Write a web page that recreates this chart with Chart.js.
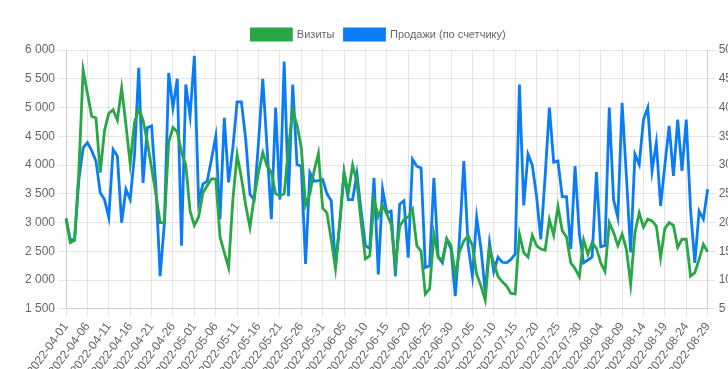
<!DOCTYPE html>
<html lang="ru">
<head>
<meta charset="utf-8">
<title>Визиты и продажи</title>
<script src="https://cdn.jsdelivr.net/npm/chart.js@4.4.1/dist/chart.umd.min.js"></script>
<style>
  html, body { margin: 0; padding: 0; background: #fff; overflow: hidden; }
  #wrap { position: absolute; left: 22px; top: 19px; width: 713px; height: 362px; }
</style>
</head>
<body>
<div id="wrap"><canvas id="traffic-chart" width="713" height="362"></canvas></div>
<script>
// first day of the period and how many days it covers
const startDay = "2022-04-01";
const dayCount = 151;

// daily site visits (left axis)
const visits = [
  3070, 2650, 2690, 3900, 5650, 5250, 4850, 4820, 3870, 4600,
  4900, 4960, 4780, 5340, 4700, 4020, 4740, 4970, 4780, 4400,
  3950, 3500, 3000, 3000, 4400, 4650, 4580, 4220, 4000, 3200,
  2950, 3100, 3520, 3640, 3760, 3760, 2750, 2480, 2220, 3400,
  4180, 3780, 3300, 2920, 3450, 3880, 4220, 3980, 3880, 3500,
  3470, 3500, 4300, 4950, 4700, 4300, 3300, 3500, 3900, 4200,
  3250, 3170, 2700, 2200, 3000, 3870, 3520, 4000, 3700, 3000,
  2370, 2420, 3400, 3100, 3300, 3150, 2970, 2250, 2940, 3050,
  3100, 3230, 2600, 2500, 1760, 1850, 2800, 2400, 2350, 2720,
  2600, 2080, 2500, 2680, 2770, 2600, 2100, 1900, 1650, 2550,
  2300, 2060, 1970, 1900, 1770, 1760, 2800, 2480, 2400, 2780,
  2600, 2540, 2520, 3050, 2780, 3280, 2860, 2750, 2300, 2200,
  2060, 2700, 2450, 2650, 2550, 2300, 2150, 3000, 2830, 2600,
  2800, 2540, 1930, 2830, 3170, 2920, 3060, 3030, 2940, 2390,
  2900, 3000, 2950, 2570, 2710, 2710, 2070, 2130, 2360, 2620,
  2490,
];

// daily sales by the counter (right axis)
const sales = [
  20.7, 17.0, 17.1, 27.5, 33.0, 33.9, 32.5, 30.7, 25.2, 24.0,
  20.9, 32.7, 31.6, 20.0, 25.8, 24.0, 31.6, 46.9, 26.9, 36.5,
  36.8, 26.4, 10.7, 20.0, 46.0, 40.0, 45.0, 16.0, 44.0, 38.5,
  49.0, 23.5, 26.7, 27.2, 31.0, 35.0, 20.6, 38.2, 27.0, 33.0,
  41.0, 41.0, 34.5, 24.9, 24.0, 34.0, 45.0, 33.0, 20.6, 40.0,
  24.0, 48.0, 24.6, 44.0, 30.1, 29.8, 12.8, 28.7, 27.2, 27.3,
  27.5, 25.0, 23.8, 12.5, 20.0, 28.7, 24.0, 24.0, 28.5, 22.0,
  16.0, 15.5, 27.8, 11.0, 25.8, 21.7, 22.0, 10.7, 23.2, 23.8,
  13.9, 31.0, 29.8, 29.5, 12.2, 12.5, 27.8, 14.0, 13.0, 17.1,
  15.4, 7.2, 17.4, 30.7, 16.0, 10.7, 20.9, 15.5, 8.0, 16.5,
  11.5, 14.0, 13.1, 13.0, 13.6, 14.5, 44.0, 23.0, 31.9, 30.0,
  24.6, 17.1, 28.0, 40.0, 30.5, 30.7, 24.5, 24.5, 15.4, 29.8,
  18.1, 13.0, 13.5, 14.0, 28.8, 15.8, 16.0, 40.0, 24.0, 20.9,
  40.8, 28.1, 14.8, 31.9, 30.1, 37.9, 40.0, 29.0, 33.9, 22.9,
  30.0, 36.8, 28.1, 37.9, 29.0, 37.9, 22.3, 13.0, 22.0, 20.6,
  25.8,
];

// axis ranges
const visitsRange = { min: 1500, max: 6000, step: 500 };
const salesRange = { min: 5, max: 50, step: 5 };
const labelEvery = 5;

const buildDays = (start, count) => {
  const days = [];
  const d = new Date(start + "T00:00:00Z");
  for (let i = 0; i < count; i++) {
    days.push(d.toISOString().slice(0, 10));
    d.setUTCDate(d.getUTCDate() + 1);
  }
  return days;
};

const days = buildDays(startDay, dayCount);

const green = "#28a745";
const blue = "#0a7cf5";

Chart.defaults.font.family = "Arial, 'Liberation Sans', sans-serif";
Chart.defaults.font.size = 12;
Chart.defaults.color = "#666";

new Chart(document.getElementById("traffic-chart"), {
  type: "line",
  data: {
    labels: days,
    datasets: [
      {
        label: "Визиты",
        data: visits,
        yAxisID: "y",
        borderColor: green,
        backgroundColor: green,
        borderWidth: 2.8,
        pointRadius: 0,
        tension: 0,
        fill: false,
      },
      {
        label: "Продажи (по счетчику)",
        data: sales,
        yAxisID: "y1",
        borderColor: blue,
        backgroundColor: blue,
        borderWidth: 2.8,
        pointRadius: 0,
        tension: 0,
        fill: false,
      },
    ],
  },
  options: {
    responsive: false,
    animation: false,
    locale: "ru-RU",
    layout: { padding: 0 },
    plugins: {
      legend: {
        position: "top",
        labels: { font: { size: 11 } },
      },
      tooltip: { enabled: false },
    },
    scales: {
      x: {
        ticks: {
          autoSkip: false,
          maxRotation: 54,
          minRotation: 54,
          callback: (value, index) => (index % labelEvery === 0 ? days[index] : null),
        },
      },
      y: {
        position: "left",
        min: visitsRange.min,
        max: visitsRange.max,
        ticks: { stepSize: visitsRange.step },
      },
      y1: {
        position: "right",
        min: salesRange.min,
        max: salesRange.max,
        ticks: { stepSize: salesRange.step },
        grid: { drawOnChartArea: false },
      },
    },
  },
});
</script>
</body>
</html>
